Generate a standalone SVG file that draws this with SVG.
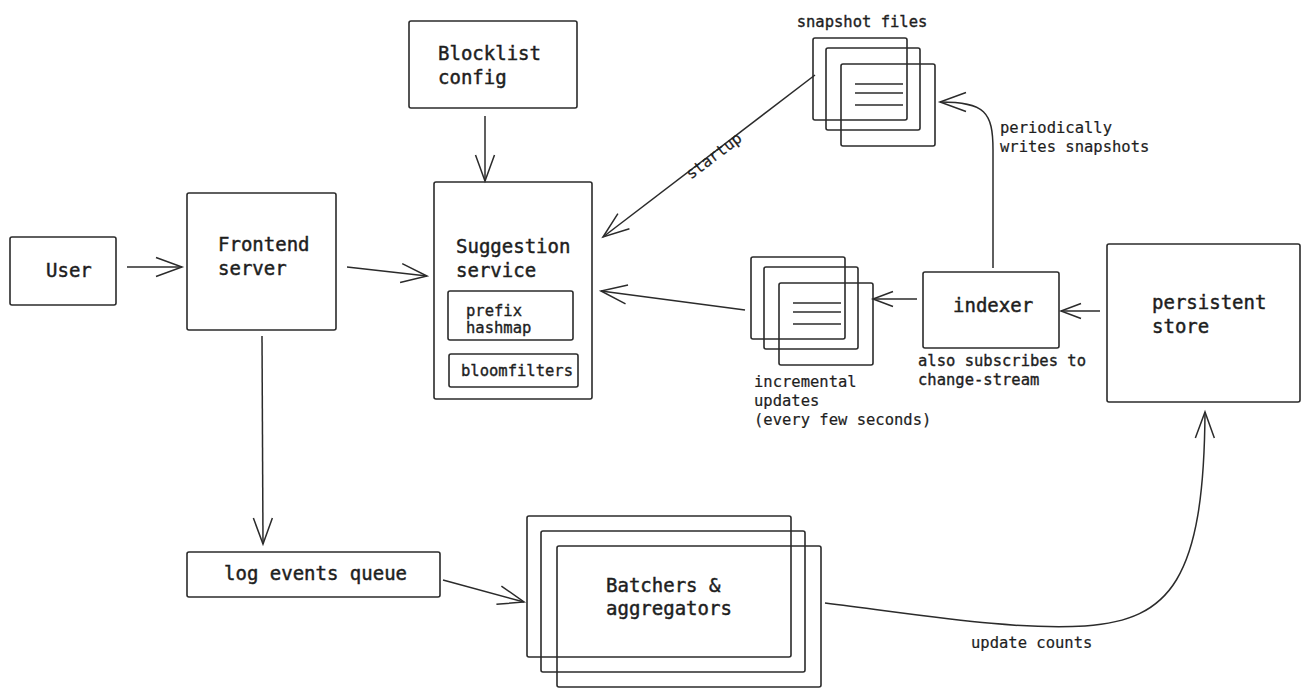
<svg xmlns="http://www.w3.org/2000/svg" width="1309" height="696" viewBox="0 0 1309 696">
<defs>
<style>
.box{fill:none;stroke:#2b2b2b;stroke-width:1.6;}
.ln{fill:none;stroke:#2b2b2b;stroke-width:1.5;}
.big{font-family:"DejaVu Sans Mono","Liberation Mono",monospace;font-size:19px;fill:#1e1e1e;stroke:#1e1e1e;stroke-width:0.45;}
.sm{font-family:"DejaVu Sans Mono","Liberation Mono",monospace;font-size:15.5px;fill:#1e1e1e;stroke:#1e1e1e;stroke-width:0.2;}
.smb{font-family:"DejaVu Sans Mono","Liberation Mono",monospace;font-size:15.5px;fill:#1e1e1e;stroke:#1e1e1e;stroke-width:0.35;}
</style>
<marker id="arr" markerUnits="userSpaceOnUse" markerWidth="32" markerHeight="24" viewBox="0 0 32 24" refX="28" refY="12" orient="auto">
<path d="M2,2.5 L28,12 L2,21.5" fill="none" stroke="#2b2b2b" stroke-width="1.5"/>
</marker>
<marker id="arrs" markerUnits="userSpaceOnUse" markerWidth="26" markerHeight="20" viewBox="0 0 26 20" refX="22" refY="10" orient="auto">
<path d="M2,2.5 L22,10 L2,17.5" fill="none" stroke="#2b2b2b" stroke-width="1.5"/>
</marker>
</defs>
<rect width="1309" height="696" fill="#ffffff"/>

<g id="connectors">
<line class="ln" x1="127" y1="267" x2="182" y2="267" marker-end="url(#arr)"/>
<line class="ln" x1="347" y1="267" x2="427" y2="276" marker-end="url(#arr)"/>
<line class="ln" x1="485" y1="116" x2="485" y2="181" marker-end="url(#arr)"/>
<line class="ln" x1="262" y1="336" x2="263" y2="544" marker-end="url(#arr)"/>
<line class="ln" x1="443" y1="580" x2="524" y2="602" marker-end="url(#arr)"/>
<path class="ln" d="M825 603 C 930 616, 1010 630, 1085 626 C 1170 620, 1204 580, 1205 412" marker-end="url(#arr)"/>
<line class="ln" x1="1100" y1="311" x2="1061" y2="311" marker-end="url(#arrs)"/>
<line class="ln" x1="917" y1="299" x2="873" y2="299" marker-end="url(#arrs)"/>
<line class="ln" x1="745" y1="310" x2="601" y2="291" marker-end="url(#arr)"/>
<line class="ln" x1="815" y1="75" x2="603" y2="237" marker-end="url(#arr)"/>
<path class="ln" d="M993 268 L993 150 C 993 112, 985 102, 940 102" marker-end="url(#arr)"/>
<text class="sm" transform="translate(714 156) rotate(-37.4)" text-anchor="middle" dominant-baseline="central">startup</text>
<text class="sm" x="1000" y="133">periodically</text>
<text class="sm" x="1000" y="152">writes snapshots</text>
<text class="sm" x="971" y="648">update counts</text>
</g>

<g id="user">
<rect class="box" x="10" y="237" width="106" height="68" rx="2"/>
<text class="big" x="46" y="277">User</text>
</g>

<g id="frontend">
<rect class="box" x="187" y="193" width="149" height="137" rx="2"/>
<text class="big" x="218" y="251">Frontend</text>
<text class="big" x="218" y="275">server</text>
</g>

<g id="blocklist">
<rect class="box" x="409" y="21" width="168" height="87" rx="2"/>
<text class="big" x="438" y="60">Blocklist</text>
<text class="big" x="438" y="84">config</text>
</g>

<g id="suggestion">
<rect class="box" x="434" y="182" width="158" height="217" rx="2"/>
<text class="big" x="456" y="253">Suggestion</text>
<text class="big" x="456" y="277">service</text>
<rect class="box" x="448" y="291" width="125" height="49" rx="2"/>
<text class="smb" x="466" y="316">prefix</text>
<text class="smb" x="466" y="333">hashmap</text>
<rect class="box" x="449" y="354" width="129" height="33" rx="2"/>
<text class="smb" x="461" y="376">bloomfilters</text>
</g>

<g id="snapshots">
<rect class="box" x="813" y="38" width="94" height="82" rx="2"/>
<rect class="box" x="826" y="48" width="94" height="82" rx="2"/>
<rect class="box" x="841" y="64" width="94" height="82" rx="2"/>
<line class="ln" x1="855" y1="84" x2="903" y2="84"/>
<line class="ln" x1="855" y1="93" x2="903" y2="93"/>
<line class="ln" x1="855" y1="105" x2="903" y2="105"/>
<text class="smb" x="862" y="27" text-anchor="middle">snapshot files</text>
</g>

<g id="incremental">
<rect class="box" x="751" y="257" width="94" height="82" rx="2"/>
<rect class="box" x="764" y="267" width="94" height="82" rx="2"/>
<rect class="box" x="779" y="283" width="94" height="82" rx="2"/>
<line class="ln" x1="793" y1="303" x2="841" y2="303"/>
<line class="ln" x1="793" y1="312" x2="841" y2="312"/>
<line class="ln" x1="793" y1="324" x2="841" y2="324"/>
<text class="sm" x="754" y="387">incremental</text>
<text class="sm" x="754" y="406">updates</text>
<text class="sm" x="754" y="425">(every few seconds)</text>
</g>

<g id="indexer">
<rect class="box" x="923" y="272" width="136" height="76" rx="2"/>
<text class="big" x="953" y="312">indexer</text>
<text class="smb" x="918" y="366">also subscribes to</text>
<text class="smb" x="918" y="385">change-stream</text>
</g>

<g id="persistent">
<rect class="box" x="1107" y="244" width="193" height="158" rx="2"/>
<text class="big" x="1152" y="309">persistent</text>
<text class="big" x="1152" y="333">store</text>
</g>

<g id="logqueue">
<rect class="box" x="187" y="552" width="253" height="45" rx="2"/>
<text class="big" x="224" y="580">log events queue</text>
</g>

<g id="batchers">
<rect class="box" x="527" y="516" width="264" height="141" rx="2"/>
<rect class="box" x="541" y="531" width="264" height="141" rx="2"/>
<rect class="box" x="557" y="546" width="264" height="141" rx="2"/>
<text class="big" x="606" y="592">Batchers &amp;</text>
<text class="big" x="606" y="615">aggregators</text>
</g>
</svg>
